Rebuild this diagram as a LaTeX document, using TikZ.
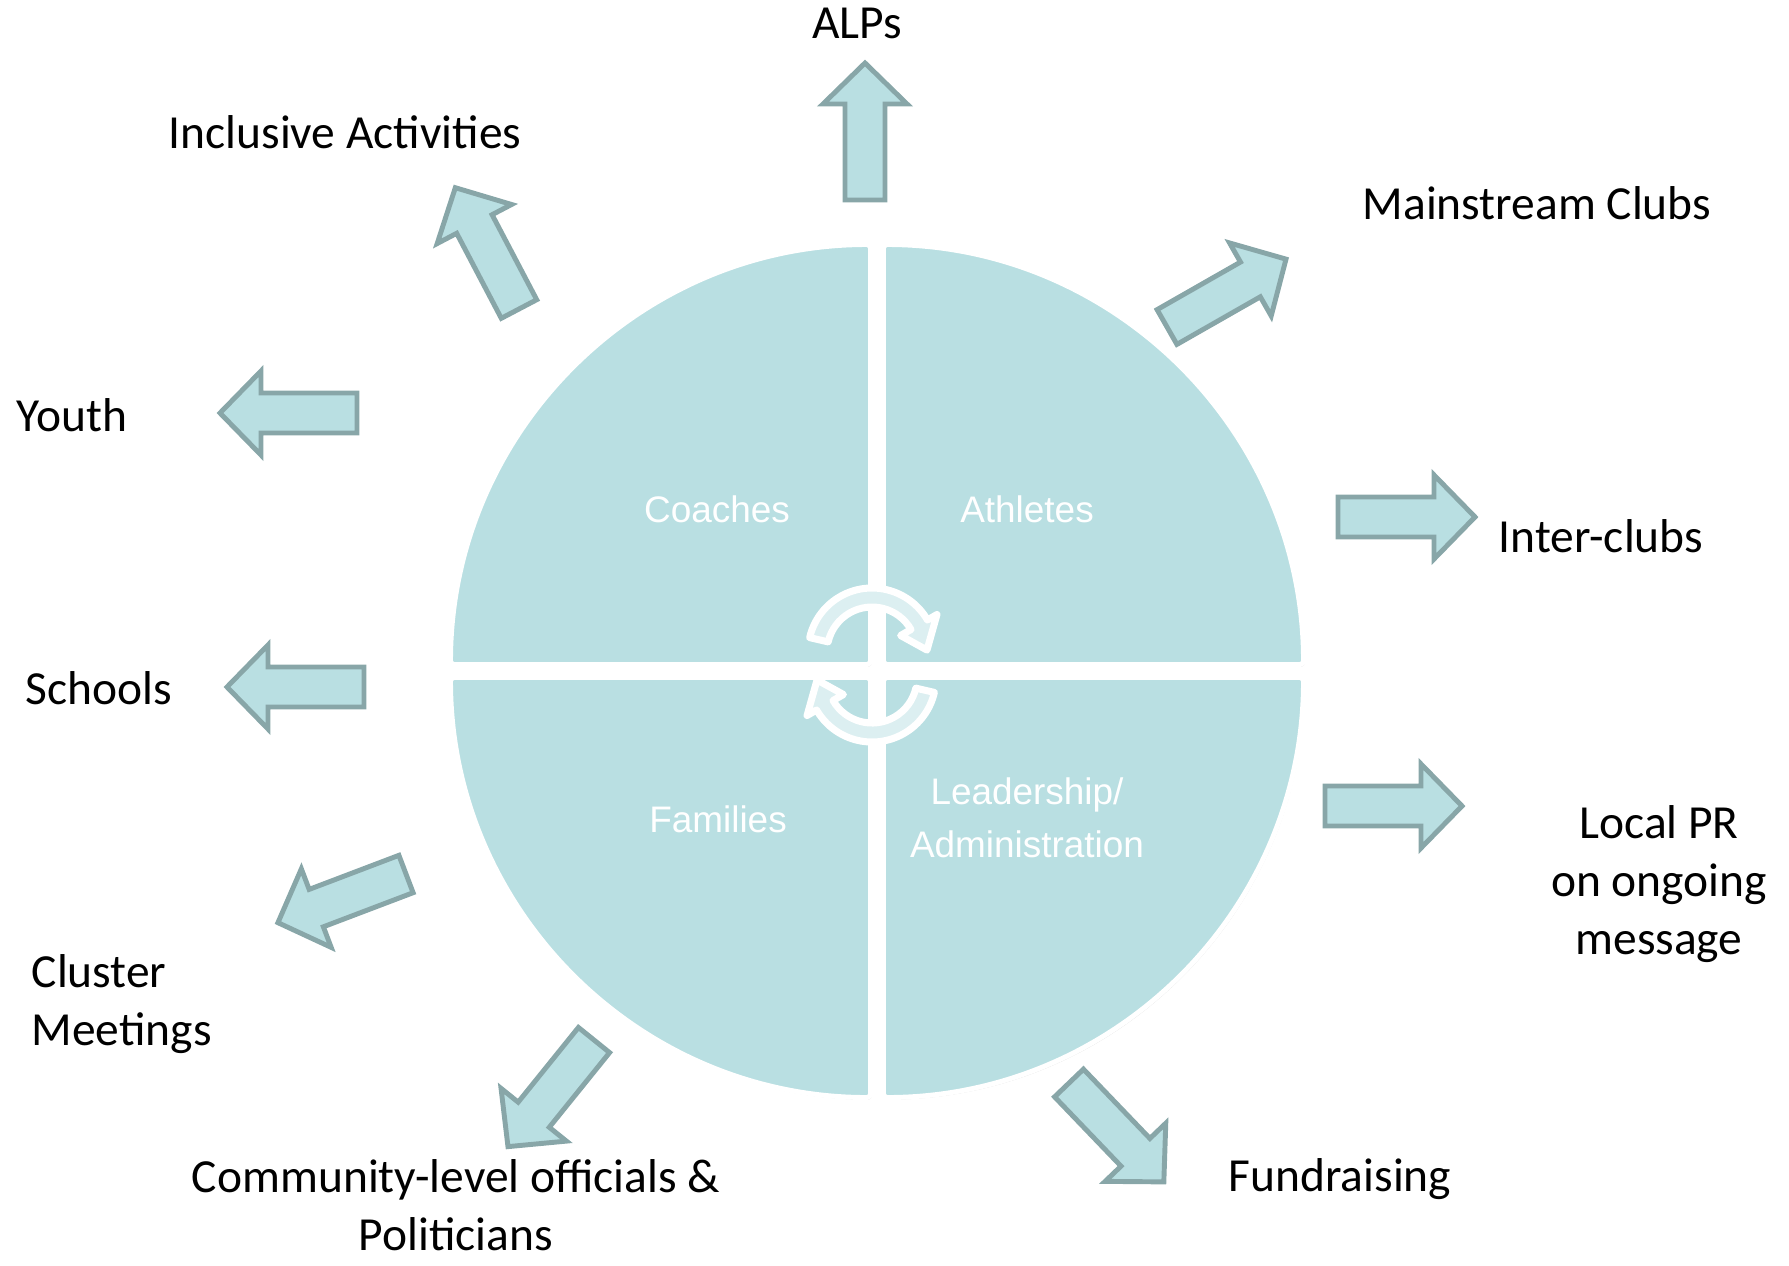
\documentclass[tikz,border=0pt]{standalone}
\usepackage{fontspec}
\setmainfont{Carlito}
\newfontfamily\arialfont{Liberation Sans}
\usetikzlibrary{shadows}
\definecolor{seafill}{HTML}{B9DFE2}
\definecolor{seaedge}{HTML}{88A6A8}
\definecolor{seapale}{HTML}{DCEFF1}

\begin{document}
\begin{tikzpicture}[x=0.01cm,y=0.01cm,
  lbl/.style={font=\fontsize{13.5}{16.5}\selectfont, align=center, inner sep=0pt},
  inlbl/.style={font=\arialfont\fontsize{10.5}{15.2}\selectfont, text=white, align=center, inner sep=0pt},
  quad/.style={fill=seafill, draw=white, line width=1.4pt, rounded corners=1pt,
    drop shadow={shadow xshift=0.4pt, shadow yshift=-0.6pt, opacity=0.3}},
  blk/.style={fill=seafill, draw=seaedge, line width=1.4pt, line join=miter},
  cyc/.style={fill=seapale, draw=white, line width=2pt, line join=round,
    drop shadow={shadow xshift=0.4pt, shadow yshift=-0.6pt, opacity=0.2}}]
\useasboundingbox (0,0) rectangle (1789,1265);

\foreach \dx/\dy/\a in {-1/1/90, 1/1/0, 1/-1/270, -1/-1/180}
  \draw[quad, shift={({877+6.5*\dx},{594+6.5*\dy})}] (0,0) -- (\a:420) arc[start angle=\a, delta angle=90, radius=420] -- cycle;

\foreach \r in {0,180}
  \draw[cyc, rotate around={\r:(872,600)}, shift={(872,613)}] (167:64) arc[start angle=167, end angle=30, radius=64] -- (30:75) -- (2:55) -- (30:33) -- (30:45) arc[start angle=30, end angle=167, radius=45] -- cycle;

\foreach \x/\y/\a in {865/1065/90, 519/956/117.7, 1167/938/29.7, 357/852/180, 1338/748/0,
  364/578/180, 1325/459/0, 406/391/200.8, 594/225/231.1, 1069/182/-46.2}
  \draw[blk, shift={(\x,\y)}, rotate=\a] (0,-20) -- (96,-20) -- (96,-42) -- (137,0) -- (96,42) -- (96,20) -- (0,20) -- cycle;

\node[inlbl] (coach) at (717,756) {Coaches};
\node[inlbl] (ath) at (1027,756) {Athletes};
\node[inlbl] (fam) at (718,446) {Families};
\node[inlbl] (lead) at (1027,447) {Leadership/\\Administration};

\node[lbl] (alps) at (857,1242) {ALPs};
\node[lbl] (incl) at (345,1133) {Inclusive Activities};
\node[lbl] (main) at (1537,1062) {Mainstream Clubs};
\node[lbl, anchor=west] (youth) at (16,850) {Youth};
\node[lbl, anchor=west] (inter) at (1498,729) {Inter-clubs};
\node[lbl, anchor=west] (school) at (25,577) {Schools};
\node[lbl] (pr) at (1659,381) {Local PR\\on ongoing\\message};
\node[lbl, anchor=west, align=left] (clus) at (31,261) {Cluster\\Meetings};
\node[lbl] (comm) at (456,60) {Community-level officials \&\\Politicians};
\node[lbl] (fund) at (1340,86) {Fundraising};
\end{tikzpicture}
\end{document}
